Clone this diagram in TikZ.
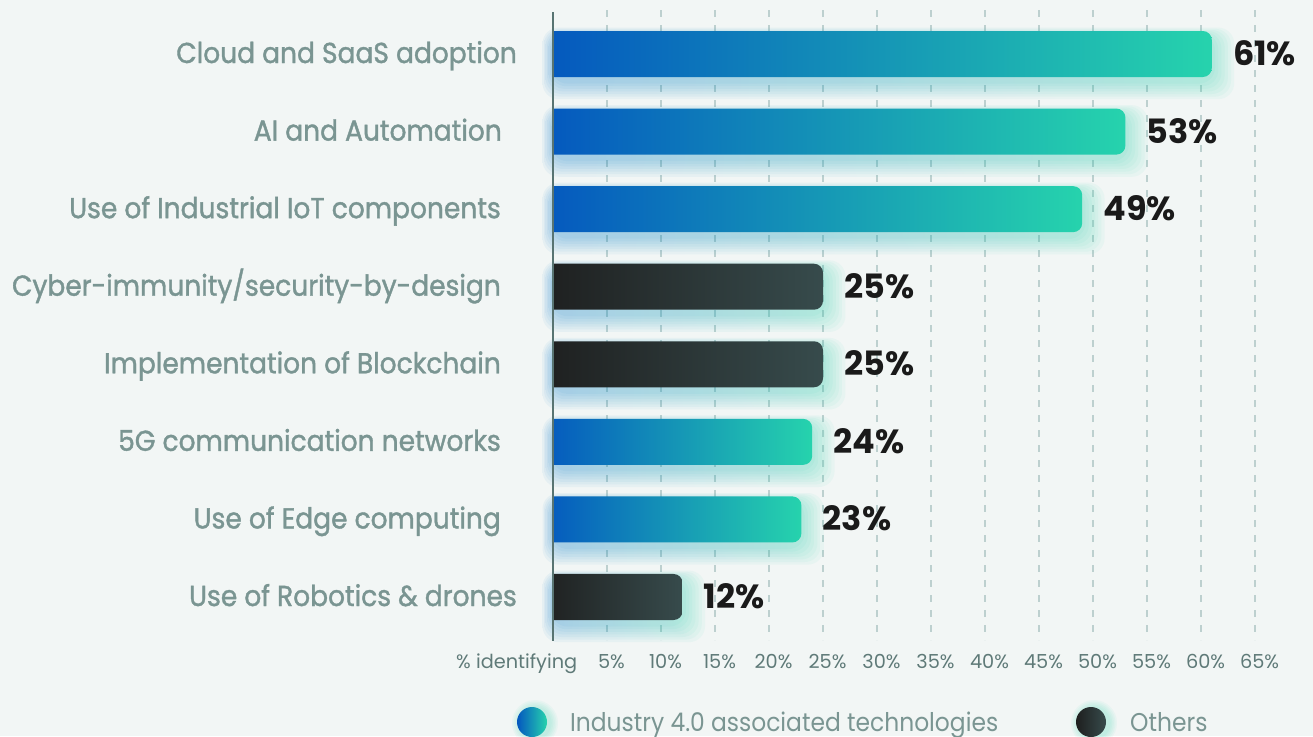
\documentclass[tikz,border=0pt]{standalone}
\usepackage{fontspec}
\setmainfont{Poppins}
\newfontfamily\lblfont{Poppins}[FakeBold=1.3, FakeStretch=0.92]
\newfontfamily\legfont{Poppins}[FakeStretch=0.91]
\definecolor{bg}{HTML}{F2F6F5}
\definecolor{gblue}{HTML}{0457BF}
\definecolor{gteal}{HTML}{26D3AD}
\definecolor{dleft}{HTML}{1E1F1F}
\definecolor{dright}{HTML}{374B4C}
\definecolor{labcol}{HTML}{7A9592}
\definecolor{tickcol}{HTML}{5F7A78}
\definecolor{axiscol}{HTML}{587472}
\definecolor{gridcol}{HTML}{BDD0CF}
\definecolor{valcol}{HTML}{1A1A1A}
\tikzset{
  gridline/.style={gridcol, line width=1.4pt, dash pattern=on 7pt off 8pt},
  catlabel/.style={anchor=base east, text=labcol, font=\lblfont\fontsize{28.8}{33}\selectfont, inner sep=0pt},
  vallabel/.style={anchor=base west, text=valcol, font=\bfseries\fontsize{33.5}{38}\selectfont, inner sep=0pt},
  ticklabel/.style={anchor=base, text=tickcol, font=\fontsize{19.3}{23}\selectfont, inner sep=0pt},
  legtext/.style={anchor=base west, text=labcol, font=\legfont\fontsize{25.7}{30}\selectfont, inner sep=0pt}
}
\newcommand{\mybar}[6]{%
  \pgfmathsetmacro{\yc}{54+77.57*(#1-1)}%
  \pgfmathsetmacro{\xe}{553+10.8*#2}%
  \foreach \k in {1,...,7}{%
    \shade[left color=gblue!80!cyan, right color=gteal, opacity=0.05, rounded corners=16]
      ({553-\k*1.5},{\yc-23-\k*1.2+5}) rectangle ({\xe+\k*3.2},{\yc+23+\k*2.6+4});
  }%
  \begin{scope}
    \clip (553,{\yc-23}) rectangle ({\xe+1},{\yc+23});
    \shade[left color=#3, right color=#4, rounded corners=9] (540,{\yc-23}) rectangle (\xe,{\yc+23});
  \end{scope}
  \node[catlabel] (lab#1) at (#5,{\yc+9}) {#6};
  \node[vallabel] (val#1) at ({\xe+21},{\yc+11.5}) {#2\%};
}
\begin{document}
\begin{tikzpicture}[x=1pt,y=-1pt]
\useasboundingbox (0,0) rectangle (1313,736);
\fill[bg] (0,0) rectangle (1313,736);
% grid
\foreach \p in {5,10,...,65}{
  \draw[gridline] ({553+10.8*\p},10) -- ({553+10.8*\p},640);
  \node[ticklabel] (t\p) at ({553+10.8*\p+4.5},668) {\p\%};
}
\node[ticklabel, anchor=base west] (tid) at (456,668) {\% identifying};
% bars
\mybar{1}{61}{gblue}{gteal}{517}{Cloud and SaaS adoption}
\mybar{2}{53}{gblue}{gteal}{502}{AI and Automation}
\mybar{3}{49}{gblue}{gteal}{501}{Use of Industrial IoT components}
\mybar{4}{25}{dleft}{dright}{501}{Cyber-immunity/security-by-design}
\mybar{5}{25}{dleft}{dright}{501}{Implementation of Blockchain}
\mybar{6}{24}{gblue}{gteal}{501}{5G communication networks}
\mybar{7}{23}{gblue}{gteal}{501}{Use of Edge computing}
\mybar{8}{12}{dleft}{dright}{517}{Use of Robotics \& drones}
% axis
\coordinate (axtop) at (553,12);
\coordinate (axbot) at (553,641);
\draw[axiscol, line width=2.6pt] (axtop) -- (axbot);
% legend
\foreach \k in {1,...,5}{
  \fill[gteal, opacity=0.05] (535,723) circle ({15+\k*1.6});
  \fill[gteal, opacity=0.05] (1094,723) circle ({15+\k*1.6});
}
\shade[left color=gblue, right color=gteal] (532,722) circle (15);
\node[legtext] (leg1) at (570,731) {Industry 4.0 associated technologies};
\shade[left color=dleft, right color=dright] (1091,722) circle (15);
\node[legtext] (leg2) at (1130,731) {Others};
\end{tikzpicture}
\end{document}
